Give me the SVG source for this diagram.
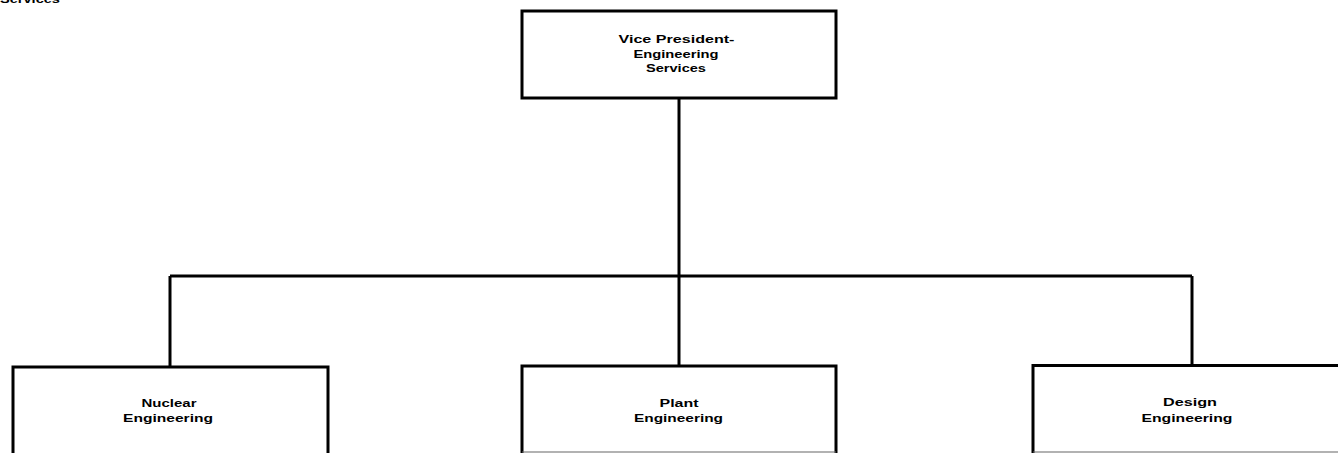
<svg xmlns="http://www.w3.org/2000/svg" width="1338" height="453" viewBox="0 0 1338 453">
<style>
.box{fill:#fff;stroke:#000;stroke-width:3}
.open{fill:none;stroke:#000;stroke-width:3}
.bot{fill:none;stroke:#666;stroke-width:1.2}
.conn{fill:none;stroke:#000;stroke-width:3}
text{font-family:"Liberation Sans",Arial,sans-serif;font-weight:bold;font-size:10.5px;fill:#000;text-anchor:middle}
</style>
<rect width="1338" height="453" fill="#fff"/>
<text x="30" y="3" textLength="60" lengthAdjust="spacingAndGlyphs">Services</text>
<g id="connectors">
<path class="conn" d="M679,98 V276"/>
<path class="conn" d="M170,276 H1192"/>
<path class="conn" d="M170,276 V367"/>
<path class="conn" d="M679,276 V366"/>
<path class="conn" d="M1192,276 V365.5"/>
</g>
<g id="vp">
<rect class="box" x="522" y="11" width="314" height="87"/>
<text x="676.5" y="42.5" textLength="116" lengthAdjust="spacingAndGlyphs">Vice President-</text>
<text x="676" y="57.5" textLength="85" lengthAdjust="spacingAndGlyphs">Engineering</text>
<text x="676" y="72" textLength="60" lengthAdjust="spacingAndGlyphs">Services</text>
</g>
<g id="nuclear">
<path class="open" d="M13,453 V367 H328 V453"/>
<text x="169" y="406.5" textLength="55" lengthAdjust="spacingAndGlyphs">Nuclear</text>
<text x="168" y="422" textLength="90" lengthAdjust="spacingAndGlyphs">Engineering</text>
</g>
<g id="plant">
<path class="open" d="M522,453 V366 H836 V453"/>
<path class="bot" d="M522,452 H836"/>
<text x="679" y="406.5" textLength="39" lengthAdjust="spacingAndGlyphs">Plant</text>
<text x="678.5" y="422" textLength="89" lengthAdjust="spacingAndGlyphs">Engineering</text>
</g>
<g id="design">
<path class="open" d="M1033,453 V365.5 H1340"/>
<path class="bot" d="M1033,452 H1338"/>
<text x="1190" y="405.7" textLength="54" lengthAdjust="spacingAndGlyphs">Design</text>
<text x="1187" y="421.7" textLength="91" lengthAdjust="spacingAndGlyphs">Engineering</text>
</g>
</svg>
